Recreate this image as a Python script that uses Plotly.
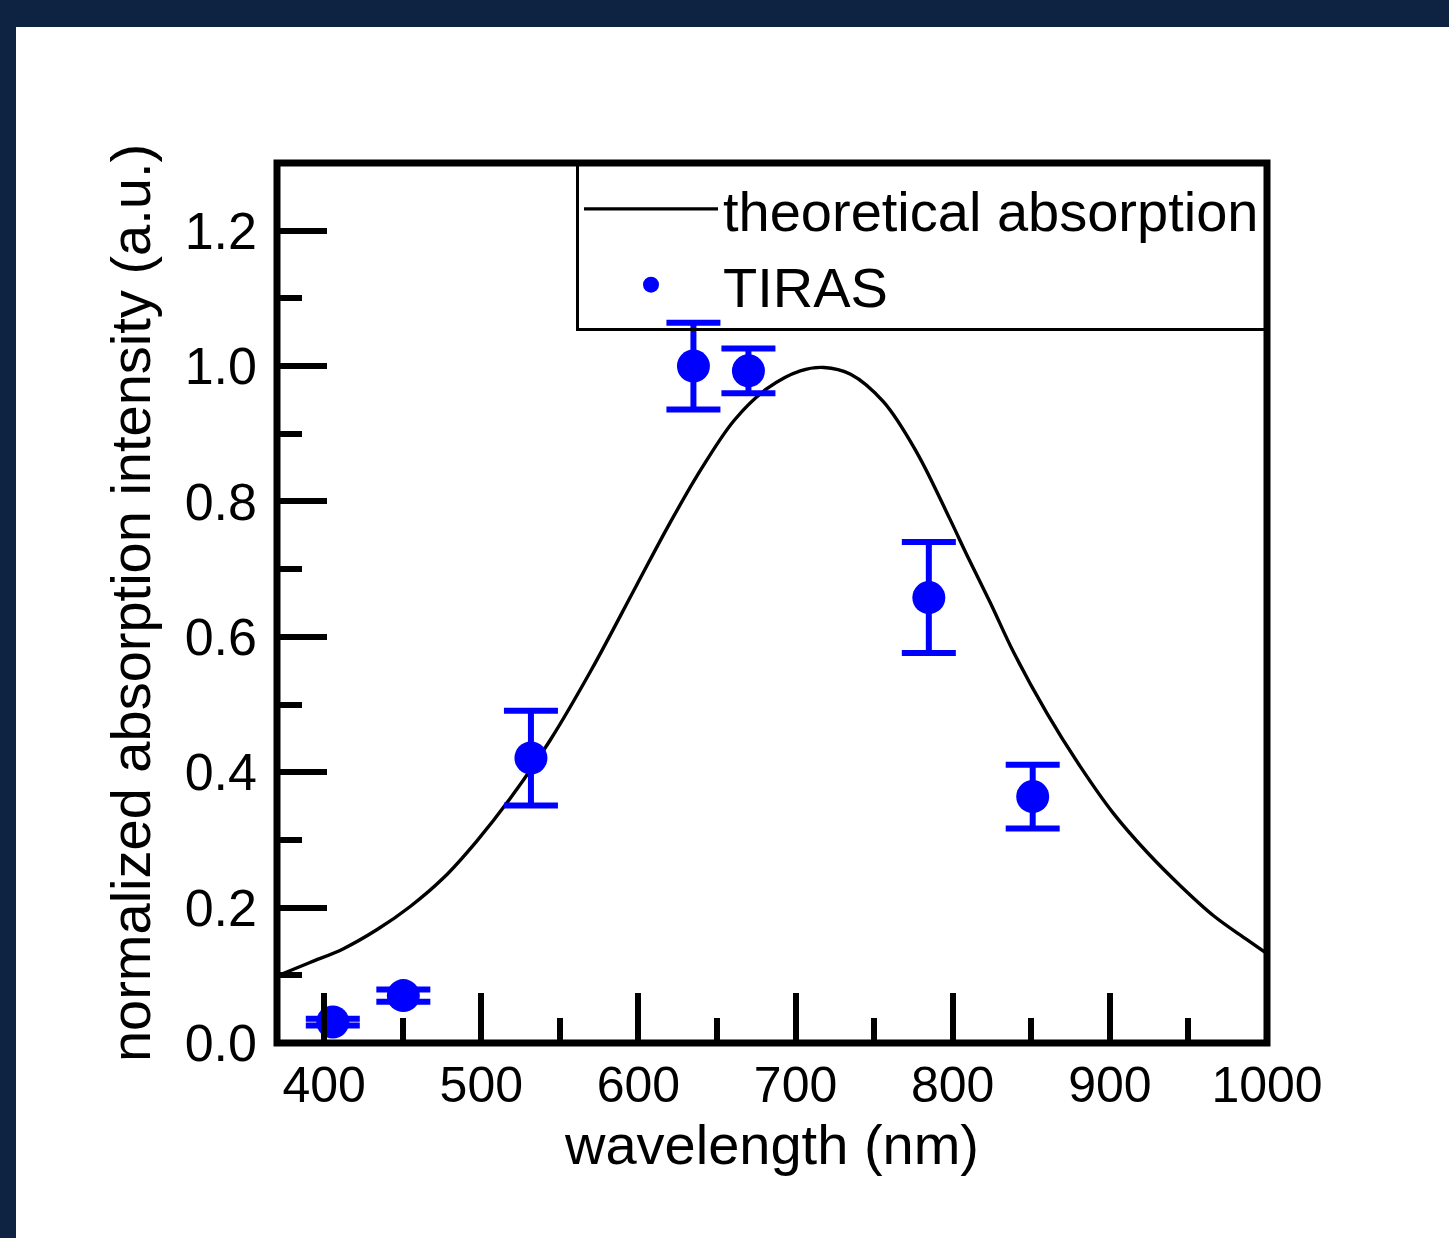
import plotly.graph_objects as go

# ---- data ----
curve_wl = [370, 391, 412, 434, 455, 476, 497, 518, 544, 570, 599, 620, 640, 661, 682,
            703, 718, 735, 756, 777, 798, 809, 824, 839, 860, 881, 902, 924, 945, 966, 987, 1000]
curve_abs = [0.099, 0.119, 0.139, 0.168, 0.202, 0.244, 0.298, 0.360, 0.448, 0.551, 0.677,
             0.768, 0.848, 0.920, 0.967, 0.993, 0.998, 0.988, 0.947, 0.873, 0.775, 0.721,
             0.650, 0.576, 0.487, 0.409, 0.340, 0.281, 0.232, 0.188, 0.153, 0.132]

tiras_wl = [405.5, 450.4, 531.6, 635.0, 670.0, 784.8, 850.9]
tiras_abs = [0.031, 0.070, 0.421, 1.000, 0.993, 0.658, 0.364]
tiras_err = [0.005, 0.009, 0.070, 0.064, 0.033, 0.082, 0.047]

x_range = [370, 1000]
y_range = [0, 1.3]

FONT = "Arial, 'Liberation Sans', sans-serif"
NAVY = "#0e2241"

W, H = 1449, 1238
ML, MR, MT, MB = 277, 182, 163, 195

fig = go.Figure()
fig.add_trace(go.Scatter(
    x=curve_wl, y=curve_abs, mode="lines", name="theoretical absorption",
    line=dict(color="black", width=3.4, shape="spline", smoothing=1.0),
))
fig.add_trace(go.Scatter(
    x=tiras_wl, y=tiras_abs, mode="markers", name="TIRAS",
    marker=dict(color="#0000ff", size=33),
    error_y=dict(type="data", array=tiras_err, visible=True, color="#0000ff",
                 thickness=6, width=27),
))

pw = W - ML - MR
ph = H - MT - MB
# white page area inside the navy frame (paper coordinates)
fig.add_shape(type="rect", xref="paper", yref="paper", layer="below",
              x0=(16 - ML) / pw, x1=(W + 10 - ML) / pw,
              y0=-(H + 10 - MT - ph) / ph, y1=(H - 27 - MB) / ph,
              fillcolor="white", line=dict(width=0))
# plot frame centred on the plot-area edges
fig.add_shape(type="rect", xref="paper", yref="paper", layer="above",
              x0=0, x1=1, y0=0, y1=1,
              line=dict(color="black", width=7), fillcolor="rgba(0,0,0,0)")

axis_common = dict(
    showgrid=False, zeroline=False, showline=False,
    ticks="inside", ticklen=50, tickwidth=6, tickcolor="black",
)
fig.update_xaxes(
    range=x_range, dtick=100, tick0=0, ticklabelstandoff=8,
    tickfont=dict(family=FONT, size=50, color="black"),
    minor=dict(dtick=50, ticks="inside", ticklen=25, tickwidth=6, tickcolor="black"),
    title=dict(text="wavelength (nm)", font=dict(family=FONT, size=56, color="black"), standoff=0),
    **axis_common,
)
fig.update_yaxes(
    range=y_range, dtick=0.2, tick0=0, tickformat=".1f", ticklabelstandoff=19,
    tickfont=dict(family=FONT, size=52, color="black"),
    minor=dict(dtick=0.1, ticks="inside", ticklen=25, tickwidth=6, tickcolor="black"),
    title=dict(text="normalized absorption intensity (a.u.)",
               font=dict(family=FONT, size=56, color="black"), standoff=16),
    **axis_common,
)
fig.update_layout(
    width=W, height=H,
    margin=dict(l=ML, r=MR, t=MT, b=MB, pad=0),
    paper_bgcolor=NAVY, plot_bgcolor="white",
    font=dict(family=FONT, color="black"),
    showlegend=True,
    legend=dict(x=1, y=1, xanchor="right", yanchor="top",
                bgcolor="rgba(0,0,0,0)", bordercolor="black", borderwidth=3,
                font=dict(family=FONT, size=56, color="black"),
                itemwidth=134, tracegroupgap=0),
)
fig.write_html("out.html", config={"displayModeBar": False},
               post_script="document.body.style.margin='0px';document.body.style.overflow='hidden';")
